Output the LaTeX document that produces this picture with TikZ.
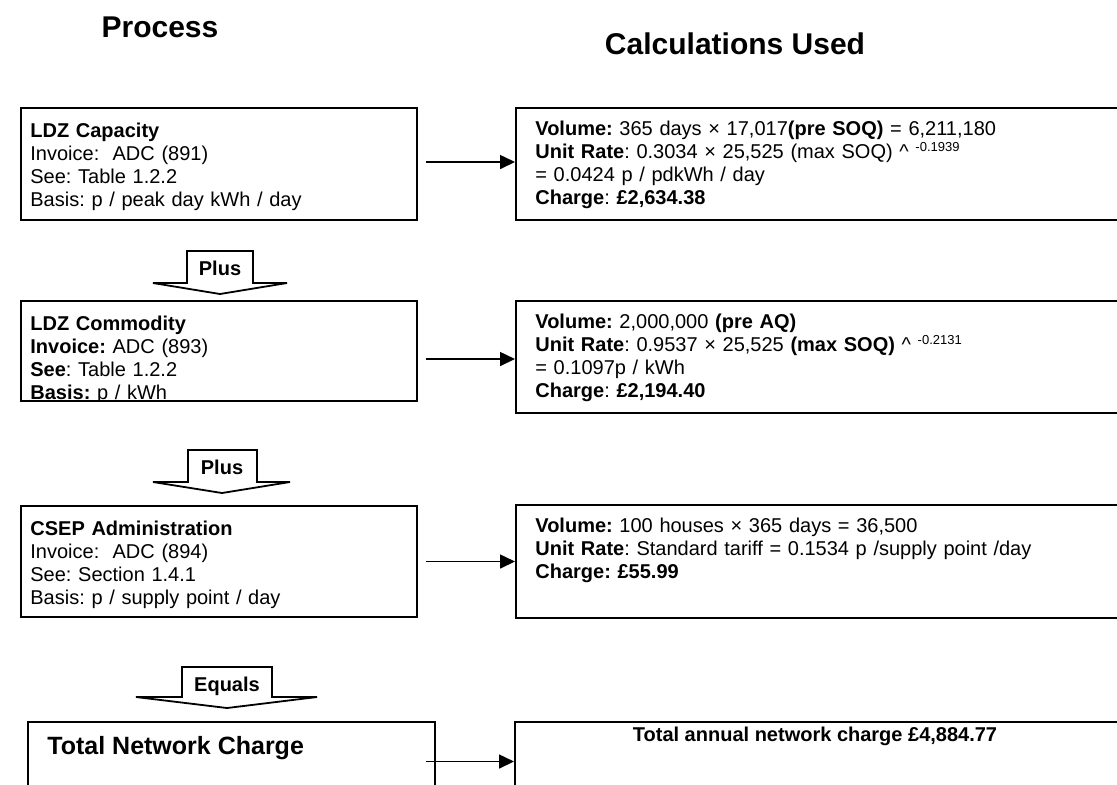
\documentclass[tikz,border=0pt]{standalone}
\usepackage{fontspec}
\setmainfont{Liberation Sans}
\usetikzlibrary{arrows.meta}
\frenchspacing
\begin{document}
\begin{tikzpicture}[x=0.5pt,y=-0.5pt,
  box/.style={draw, line width=1pt, rectangle, inner sep=0pt, anchor=north west},
  txt/.style={anchor=north west, inner sep=0pt, align=left, text width=300pt, font=\fontsize{10pt}{11.5pt}\selectfont},
  conn/.style={line width=0.8pt, -{Triangle[length=7.5pt,width=7pt]}},
  blk/.style={draw, line width=0.9pt, fill=white, line join=miter},
  blklbl/.style={font=\bfseries\fontsize{10pt}{12pt}\selectfont, inner sep=0pt},
  title/.style={font=\bfseries\fontsize{15pt}{18pt}\selectfont, inner sep=0pt}]
\useasboundingbox (0,0) rectangle (1117,784);
\newcommand{\supx}[1]{\raisebox{0.7ex}{\fontsize{6.5pt}{7pt}\selectfont #1}}

% titles
\node[title] (hproc) at (160,27) {Process};
\node[title] (hcalc) at (735,44) {Calculations Used};

% boxes
\node[box, minimum width=198pt, minimum height=56pt] (L1) at (20,107) {};
\node[box, minimum width=315pt, minimum height=56pt] (R1) at (515,107) {};
\node[box, minimum width=198pt, minimum height=50pt] (L2) at (20,300) {};
\node[box, minimum width=315pt, minimum height=56pt] (R2) at (515,300) {};
\node[box, minimum width=198pt, minimum height=55.5pt] (L3) at (20,505) {};
\node[box, minimum width=315pt, minimum height=56.5pt] (R3) at (515,504) {};
\node[box, minimum width=203.5pt, minimum height=45pt] (L4) at (27,721) {};
\node[box, minimum width=315pt, minimum height=45pt] (R4) at (514,721) {};

% texts
\node[txt] (t1) at (30,123) {\textbf{LDZ Capacity}\\Invoice:\ \ ADC (891)\\See: Table 1.2.2\\Basis: p / peak day kWh / day};
\node[txt] (u1) at (535,121) {\textbf{Volume:} 365 days × 17,017\textbf{(pre SOQ)} = 6,211,180\\\textbf{Unit Rate}: 0.3034 × 25,525 (max SOQ) \textasciicircum\ \supx{-0.1939}\\= 0.0424 p / pdkWh / day\\\textbf{Charge}: \textbf{£2,634.38}};
\begin{scope}
\clip (20,300) rectangle (416,400);
\node[txt] (t2) at (30,316) {\textbf{LDZ Commodity}\\\textbf{Invoice:} ADC (893)\\\textbf{See}: Table 1.2.2\\\textbf{Basis:} p / kWh};
\end{scope}
\node[txt] (u2) at (535,314) {\textbf{Volume:} 2,000,000 \textbf{(pre AQ)}\\\textbf{Unit Rate}: 0.9537 × 25,525 \textbf{(max SOQ)} \textasciicircum\ \supx{-0.2131}\\= 0.1097p / kWh\\\textbf{Charge}: \textbf{£2,194.40}};
\node[txt] (t3) at (30,521) {\textbf{CSEP Administration}\\Invoice:\ \ ADC (894)\\See: Section 1.4.1\\Basis: p / supply point / day};
\node[txt] (u3) at (535,518) {\textbf{Volume:} 100 houses × 365 days = 36,500\\\textbf{Unit Rate}: Standard tariff = 0.1534 p /supply point /day\\\textbf{Charge: £55.99}};
\node[anchor=west, inner sep=0pt, font=\bfseries\fontsize{12.5pt}{15pt}\selectfont] (t4) at (47,748) {Total Network Charge};
\node[inner sep=0pt, font=\bfseries\fontsize{10pt}{12pt}\selectfont] (u4) at (815,736) {Total annual network charge £4,884.77};

% connectors
\draw[conn] ([shift={(8,-2)}]L1.east) -- ([shift={(0,-2)}]L1.east -| R1.west);
\draw[conn] ([shift={(8,8)}]L2.east) -- ([shift={(0,8)}]L2.east -| R2.west);
\draw[conn] ([shift={(8,0)}]L3.east) -- ([shift={(0,0)}]L3.east -| R3.west);
\draw[conn] ([shift={(-10,-5.5)}]L4.east) -- ([shift={(0,-5.5)}]L4.east -| R4.west);

% block arrows
\draw[blk] (153,283) -- (187,283) -- (187,251) -- (253,251) -- (253,283) -- (287,283) -- (220,294) -- cycle;
\node[blklbl] (plus1) at (220,268) {Plus};
\draw[blk] (153,482) -- (188,482) -- (188,450) -- (257,450) -- (257,482) -- (290,482) -- (222,493) -- cycle;
\node[blklbl] (plus2) at (222,467) {Plus};
\draw[blk] (136,697) -- (182,697) -- (182,667) -- (272,667) -- (272,697) -- (317,697) -- (227,708) -- cycle;
\node[blklbl] (equals) at (227,686) {Equals};
\end{tikzpicture}
\end{document}
